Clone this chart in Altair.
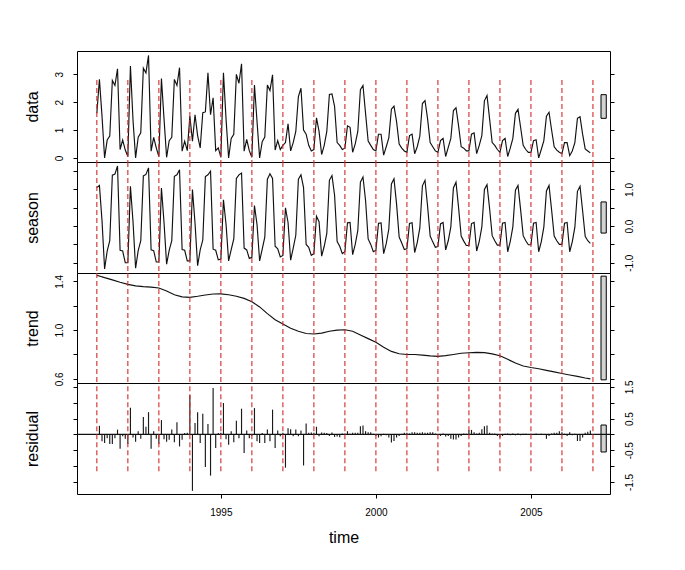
import altair as alt
import pandas as pd

# ---------------- data (monthly, Jan 1991 - Dec 2006) ----------------
years = list(range(1991, 2007))

data_rows = [
    [1.60, 2.82, 1.50, 0.00, 0.64, 0.78, 2.78, 2.60, 3.20, 0.30, 0.64, 0.28],  # 1991
    [0.05, 3.30, 1.35, 0.00, 0.74, 0.90, 3.22, 3.05, 3.68, 0.24, 0.74, 0.36],  # 1992
    [0.05, 2.85, 1.40, 0.02, 0.62, 0.74, 2.82, 2.60, 3.24, 0.24, 0.60, 0.26],  # 1993
    [1.50, 0.60, 1.55, 0.80, 0.36, 1.62, 1.65, 3.06, 1.55, 2.16, 0.26, 0.36],  # 1994
    [0.02, 3.06, 1.40, 0.00, 0.70, 0.85, 3.00, 2.68, 3.38, 0.24, 0.66, 0.26],  # 1995
    [0.02, 2.62, 1.30, 0.00, 0.58, 0.75, 2.62, 2.42, 2.98, 0.28, 0.62, 0.30],  # 1996
    [0.45, 0.55, 1.22, 0.25, 0.55, 0.95, 2.20, 2.50, 1.00, 0.85, 0.45, 0.25],  # 1997
    [0.30, 1.44, 0.95, 0.12, 0.45, 0.95, 2.28, 2.30, 1.85, 0.55, 0.45, 0.30],  # 1998
    [0.35, 1.15, 1.10, 0.20, 0.50, 0.95, 2.45, 2.60, 1.60, 0.60, 0.45, 0.30],  # 1999
    [0.25, 0.85, 0.85, 0.10, 0.40, 0.72, 1.75, 1.86, 1.30, 0.50, 0.35, 0.25],  # 2000
    [0.20, 0.80, 0.85, 0.15, 0.40, 0.78, 1.95, 2.06, 1.40, 0.55, 0.40, 0.25],  # 2001
    [0.20, 0.62, 0.70, 0.05, 0.38, 0.70, 1.70, 1.80, 1.15, 0.40, 0.35, 0.25],  # 2002
    [0.25, 0.85, 0.90, 0.15, 0.45, 0.80, 2.05, 2.24, 1.40, 0.55, 0.45, 0.30],  # 2003
    [0.20, 0.62, 0.70, 0.05, 0.35, 0.70, 1.60, 1.74, 1.10, 0.45, 0.30, 0.20],  # 2004
    [0.20, 0.62, 0.65, 0.00, 0.30, 0.62, 1.50, 1.64, 1.00, 0.40, 0.28, 0.20],  # 2005
    [0.15, 0.55, 0.55, 0.08, 0.25, 0.55, 1.42, 1.48, 0.85, 0.32, 0.25, 0.18],  # 2006
]

season_rows = [
    [1.05, 1.11, 0.15, -1.17, -0.68, -0.40, 1.39, 1.42, 1.64, -0.66, -0.68, -1.00],   # 1991
    [-1.00, 1.09, 0.12, -1.15, -0.67, -0.40, 1.37, 1.41, 1.59, -0.65, -0.67, -0.98],  # 1992
    [-0.98, 1.04, 0.10, -1.04, -0.66, -0.40, 1.36, 1.40, 1.54, -0.64, -0.66, -0.95],  # 1993
    [-0.95, 1.00, 0.08, -1.08, -0.65, -0.38, 1.35, 1.40, 1.50, -0.63, -0.66, -0.92],  # 1994
    [-0.90, 0.72, 0.05, -0.95, -0.64, -0.35, 1.30, 1.40, 1.45, -0.60, -0.65, -0.88],  # 1995
    [-0.85, 0.56, 0.04, -0.95, -0.63, -0.30, 1.28, 1.43, 1.30, -0.55, -0.62, -0.84],  # 1996
    [-0.80, 0.50, 0.10, -0.93, -0.60, -0.25, 1.28, 1.40, 1.05, -0.50, -0.58, -0.80],  # 1997
    [-0.75, 0.27, 0.12, -0.82, -0.55, -0.20, 1.25, 1.38, 0.85, -0.42, -0.55, -0.75],  # 1998
    [-0.70, 0.09, 0.10, -0.78, -0.50, -0.12, 1.20, 1.34, 0.70, -0.35, -0.50, -0.70],  # 1999
    [-0.66, 0.08, 0.09, -0.75, -0.48, -0.08, 1.15, 1.29, 0.60, -0.30, -0.46, -0.64],  # 2000
    [-0.62, 0.07, 0.09, -0.72, -0.45, -0.05, 1.10, 1.25, 0.55, -0.27, -0.43, -0.58],  # 2001
    [-0.56, 0.06, 0.10, -0.65, -0.40, -0.02, 1.04, 1.20, 0.50, -0.27, -0.41, -0.53],  # 2002
    [-0.53, 0.07, 0.10, -0.68, -0.42, -0.02, 1.00, 1.13, 0.48, -0.26, -0.40, -0.52],  # 2003
    [-0.52, 0.08, 0.10, -0.70, -0.42, -0.02, 0.98, 1.11, 0.45, -0.26, -0.40, -0.51],  # 2004
    [-0.51, 0.08, 0.10, -0.70, -0.43, -0.02, 0.96, 1.11, 0.44, -0.27, -0.40, -0.50],  # 2005
    [-0.50, 0.08, 0.10, -0.70, -0.43, -0.03, 0.95, 1.09, 0.42, -0.28, -0.40, -0.47],  # 2006
]

resid_rows = [
    [0.00, 0.27, -0.22, -0.27, -0.12, -0.30, -0.30, -0.12, 0.15, -0.45, -0.06, -0.14],  # 1991
    [-0.30, 0.84, -0.10, -0.23, 0.10, -0.14, 0.55, 0.24, 0.70, -0.45, 0.10, -0.14],   # 1992
    [-0.30, 0.45, -0.15, -0.23, -0.17, 0.15, -0.25, 0.38, -0.38, -0.17, 0.04, 0.05],  # 1993
    [1.23, -1.78, 0.36, 0.70, -0.27, 0.65, -1.03, 0.33, -1.30, 1.46, -0.43, 0.04],    # 1994
    [0.05, 0.99, -0.15, -0.33, 0.10, -0.25, 0.43, -0.12, 0.81, -0.59, 0.12, -0.12],   # 1995
    [-0.05, 0.83, -0.22, -0.27, 0.04, -0.27, 0.15, -0.22, 0.78, -0.43, 0.12, -0.06],  # 1996
    [0.05, -1.05, 0.19, 0.16, -0.06, 0.15, -0.06, 0.12, -0.98, 0.34, 0.05, 0.06],     # 1997
    [0.05, 0.24, -0.06, 0.06, 0.05, 0.04, -0.05, 0.06, -0.08, -0.07, -0.09, 0.03],    # 1998
    [0.03, 0.10, 0.02, 0.05, 0.05, 0.05, 0.26, 0.28, 0.10, 0.07, 0.07, 0.02],         # 1999
    [-0.05, -0.10, -0.06, 0.02, -0.03, -0.10, -0.26, -0.21, -0.10, -0.05, 0.02, 0.05],  # 2000
    [0.05, 0.03, 0.07, 0.07, 0.05, 0.05, 0.07, 0.05, 0.05, 0.07, 0.07, 0.03],         # 2001
    [-0.03, -0.05, 0.03, -0.07, -0.05, -0.14, -0.16, -0.16, -0.10, -0.05, 0.03, 0.02],  # 2002
    [0.14, 0.14, 0.07, 0.03, 0.05, 0.16, 0.26, 0.28, 0.05, 0.03, 0.03, -0.05],        # 2003
    [-0.10, -0.05, 0.02, 0.03, -0.03, 0.03, -0.03, 0.03, -0.03, 0.02, 0.02, 0.01],    # 2004
    [0.02, 0.01, 0.03, 0.01, 0.02, 0.00, -0.14, -0.05, 0.03, 0.05, 0.05, 0.10],       # 2005
    [0.07, 0.02, -0.05, 0.07, -0.03, 0.02, -0.21, -0.21, -0.10, 0.05, 0.08, 0.12],    # 2006
]

trend_time = [
    1991.00, 1991.25, 1991.50, 1991.75, 1992.00, 1992.25, 1992.50, 1992.75,
    1993.00, 1993.25, 1993.50, 1993.75, 1994.00, 1994.25, 1994.50, 1994.75,
    1995.00, 1995.25, 1995.50, 1995.75, 1996.00, 1996.25, 1996.50, 1996.75,
    1997.00, 1997.25, 1997.50, 1997.75, 1998.00, 1998.25, 1998.50, 1998.75,
    1999.00, 1999.25, 1999.50, 1999.75, 2000.00, 2000.25, 2000.50, 2000.75,
    2001.00, 2001.25, 2001.50, 2001.75, 2002.00, 2002.25, 2002.50, 2002.75,
    2003.00, 2003.25, 2003.50, 2003.75, 2004.00, 2004.25, 2004.50, 2004.75,
    2005.00, 2005.25, 2005.50, 2005.75, 2006.00, 2006.25, 2006.50, 2006.75,
    2006.917,
]
trend_vals = [
    1.450, 1.430, 1.412, 1.392, 1.375, 1.362, 1.356, 1.352,
    1.345, 1.320, 1.290, 1.272, 1.268, 1.277, 1.288, 1.296,
    1.297, 1.290, 1.277, 1.260, 1.233, 1.190, 1.135, 1.085,
    1.049, 1.015, 0.990, 0.972, 0.968, 0.975, 0.990, 1.000,
    1.003, 0.990, 0.960, 0.930, 0.900, 0.860, 0.825, 0.806,
    0.800, 0.800, 0.795, 0.788, 0.784, 0.790, 0.800, 0.810,
    0.814, 0.817, 0.815, 0.805, 0.790, 0.760, 0.730, 0.705,
    0.693, 0.683, 0.670, 0.657, 0.644, 0.632, 0.620, 0.607,
    0.600,
]

year_lines = list(range(1991, 2008))
x_tick_values = [1995, 2000, 2005]

# ---------------- frames ----------------
months = [y + m / 12 for y in years for m in range(12)]


def flat(rows):
    return [v for r in rows for v in r]


df_data = pd.DataFrame({"t": months, "v": flat(data_rows)})
df_season = pd.DataFrame({"t": months, "v": flat(season_rows)})
df_resid = pd.DataFrame({"t": months, "v": flat(resid_rows)})
df_trend = pd.DataFrame({"t": trend_time, "v": trend_vals})
df_years = pd.DataFrame({"yr": year_lines})

# ---------------- styling ----------------
FONT = "Liberation Sans"
RED = "#d42a2a"
INK = "#111111"
LW = 1.15
W = 533
X_DOMAIN = [1990.36, 2007.55]
xs = alt.Scale(domain=X_DOMAIN, nice=False, zero=False)
RANGE_BAR_LEN = max(trend_vals) - min(trend_vals)
BAR_X = (2007.26, 2007.43)


def label_expr(shown, fmt):
    conds = " || ".join(f"abs(datum.value - ({v})) < 1e-6" for v in shown)
    return f"({conds}) ? replace(format(datum.value, '{fmt}'), '\u2212', '-') : ''"


def y_axis(orient, height, ticks, shown, fmt, title=None, pad=11):
    kw = dict(
        orient=orient, values=ticks, tickSize=4, tickColor="black", tickWidth=1,
        domain=False, grid=False, labelFont=FONT, labelFontSize=10, labelColor="black",
        labelAngle=270, labelAlign="center", labelBaseline="alphabetic",
        labelPadding=pad, labelOverlap=False, labelFlush=False,
    )
    if shown:
        kw["labelExpr"] = label_expr(shown, fmt)
    else:
        kw["labels"] = False
    if title:
        kw.update(
            title=title, titleX=-39.5, titleY=height / 2, titleAngle=270,
            titleAlign="center", titleBaseline="alphabetic", titleFont=FONT,
            titleFontSize=16, titleFontWeight="normal", titleColor="black",
        )
    else:
        kw["title"] = None
    return alt.Axis(**kw)


def panel(df, title, height, domain, ticks, left_shown, right_shown, fmt,
          kind="line", red_top=None, red_bottom=None, bottom_axis=False):
    ys = alt.Scale(domain=domain, nice=False, zero=False)
    if bottom_axis:
        xaxis = alt.Axis(
            orient="bottom", values=x_tick_values, format="d", tickSize=4,
            tickColor="black", domain=False, grid=False, labelFont=FONT,
            labelFontSize=10, labelColor="black", labelPadding=9,
            labelFlush=False, labelOverlap=False,
            title="time", titleFont=FONT, titleFontSize=16, titleFontWeight="normal",
            titleColor="black", titleX=W / 2, titleY=48, titleBaseline="alphabetic",
            titleAlign="center",
        )
    else:
        xaxis = None
    laxis = y_axis("left", height, ticks, left_shown, fmt, title=title, pad=11)
    raxis = y_axis("right", height, ticks, right_shown, fmt, title=None, pad=18.7)

    if kind == "line":
        main = alt.Chart(df).mark_line(color=INK, strokeWidth=LW).encode(
            x=alt.X("t:Q", scale=xs, axis=xaxis),
            y=alt.Y("v:Q", scale=ys, axis=laxis),
        )
    else:
        main = alt.Chart(df).mark_rule(color="#1a1a1a", strokeWidth=LW).encode(
            x=alt.X("t:Q", scale=xs, axis=xaxis),
            y=alt.Y("v:Q", scale=ys, axis=laxis),
            y2=alt.Y2Datum(0),
        )

    centre = (domain[0] + domain[1]) / 2
    df_bar = pd.DataFrame({
        "x1": [BAR_X[0]], "x2": [BAR_X[1]],
        "y1": [centre - RANGE_BAR_LEN / 2], "y2": [centre + RANGE_BAR_LEN / 2],
    })
    bar = alt.Chart(df_bar).mark_rect(fill="#d3d3d3", stroke="black", strokeWidth=1).encode(
        x=alt.X("x1:Q", scale=xs, axis=None), x2="x2",
        y=alt.Y("y1:Q", scale=ys, axis=raxis), y2="y2",
    )

    if red_top is not None:
        y_enc = alt.YDatum(red_top, axis=None, scale=ys)
        y2_enc = alt.value(height)
    elif red_bottom is not None:
        y_enc = alt.YDatum(red_bottom, axis=None, scale=ys)
        y2_enc = alt.value(0)
    else:
        y_enc = alt.value(0)
        y2_enc = alt.value(height)
    rules = alt.Chart(df_years).mark_rule(color=RED, strokeDash=[5, 3], strokeWidth=1.1).encode(
        x=alt.X("yr:Q", scale=xs, axis=None), y=y_enc, y2=y2_enc,
    )

    layers = [main, bar]
    if kind == "bar":
        zero = alt.Chart(pd.DataFrame({"z": [0]})).mark_rule(color=INK, strokeWidth=LW).encode(
            y=alt.Y("z:Q", scale=ys, axis=None)
        )
        layers.append(zero)
    layers.append(rules)
    return (
        alt.layer(*layers)
        .resolve_axis(x="independent", y="independent")
        .properties(width=W, height=height)
    )


p_data = panel(df_data, "data", 111, [-0.148, 3.838], [0, 1, 2, 3], [0, 1, 2, 3], [], "d",
               red_top=2.8)
p_season = panel(df_season, "season", 111, [-1.28, 1.75], [-1.0, -0.5, 0.0, 0.5, 1.0, 1.5],
                 [], [-1.0, 0.0, 1.0], ".1f")
p_trend = panel(df_trend, "trend", 110, [0.566, 1.468], [0.6, 0.8, 1.0, 1.2, 1.4],
                [0.6, 1.0, 1.4], [], ".1f")
p_resid = panel(df_resid, "residual", 111, [-1.88, 1.62],
                [-1.5, -1.0, -0.5, 0.0, 0.5, 1.0, 1.5], [], [-1.5, -0.5, 0.5, 1.5], ".1f",
                kind="bar", red_bottom=-1.16, bottom_axis=True)

chart = (
    alt.vconcat(p_data, p_season, p_trend, p_resid, spacing=0, bounds="flush")
    .properties(padding={"left": 16, "top": 42, "right": 5, "bottom": 5}, background="white")
    .configure(font=FONT)
    .configure_view(stroke="black", strokeWidth=1)
)

chart.save("out.html", embed_options={"renderer": "svg", "actions": False})
